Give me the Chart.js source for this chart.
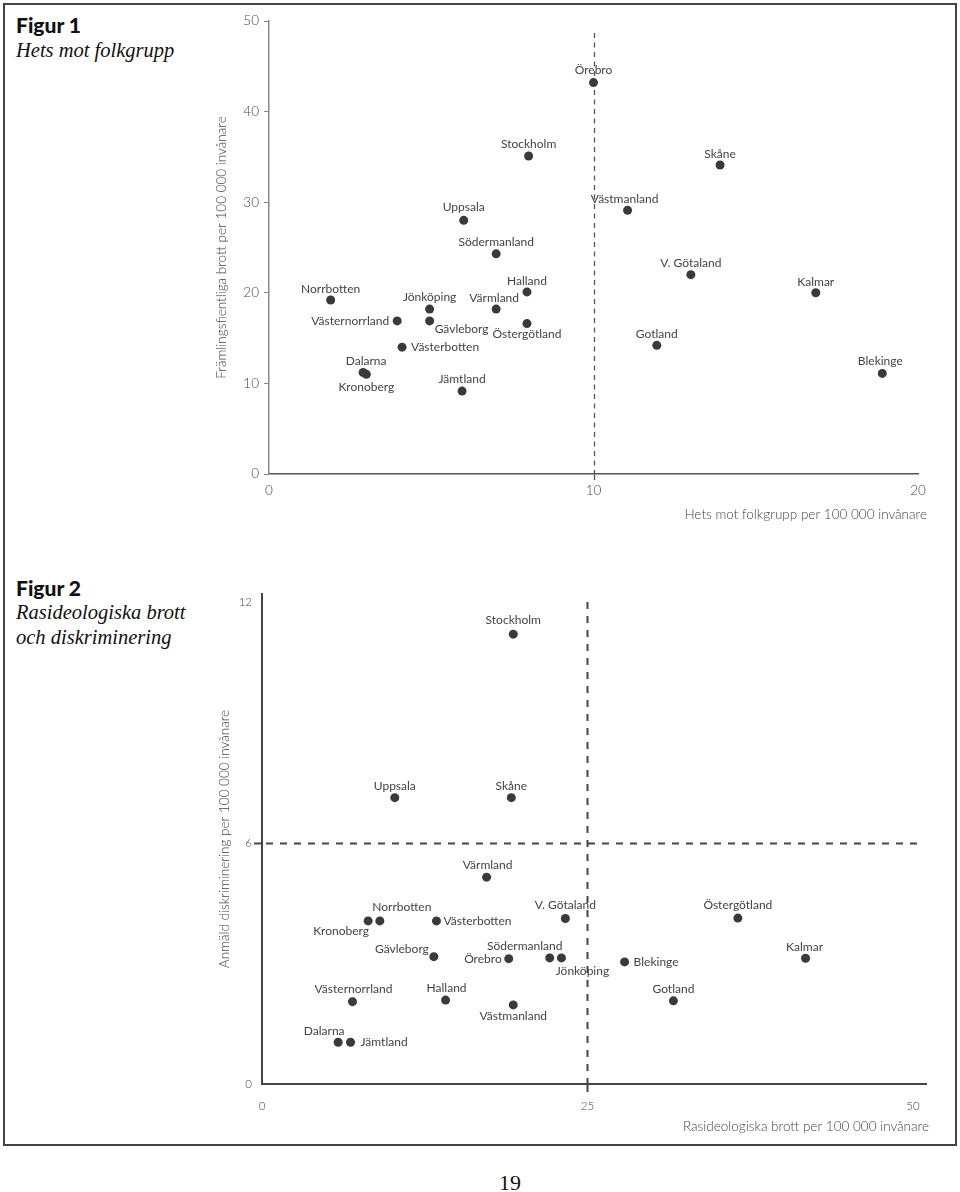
<html>
<head>
<meta charset="utf-8">
<title>Figur 1 och 2</title>
<script src="https://cdn.jsdelivr.net/npm/chart.js"></script>
<style>
  body { margin: 0; width: 960px; height: 1192px; background: #fff; position: relative; overflow: hidden; }
  #frame { position: absolute; left: 3px; top: 3px; width: 954px; height: 1143px; box-sizing: border-box; border: 2px solid #444; }
  canvas { position: absolute; left: 0; }
  .fignum { position: absolute; left: 16px; font: 900 21px Lato, sans-serif; line-height: 24px; color: #111; }
  .figtitle { position: absolute; left: 16px; font: italic 20.5px "Liberation Serif", serif; line-height: 24.5px; color: #111; }
  #page { position: absolute; left: 499px; top: 1172px; font: 22px "Liberation Serif", serif; line-height: 22px; color: #111; }
</style>
</head>
<body>
<div id="frame"></div>
<div class="fignum" style="top:13px">Figur 1</div>
<div class="figtitle" style="top:38px">Hets mot folkgrupp</div>
<div class="fignum" style="top:576px">Figur 2</div>
<div class="figtitle" style="top:600px">Rasideologiska brott<br>och diskriminering</div>
<canvas id="fig1" width="960" height="548" style="top:0"></canvas>
<canvas id="fig2" width="960" height="600" style="top:548px"></canvas>
<div id="page">19</div>
<script>
// Figur 1: hets mot folkgrupp (x) mot främlingsfientliga brott (y), per 100 000 invånare
var lan1 = ['Örebro', 'Stockholm', 'Skåne', 'Västmanland', 'Uppsala', 'Södermanland', 'V. Götaland',
    'Halland', 'Kalmar', 'Norrbotten', 'Värmland', 'Jönköping', 'Västernorrland', 'Gävleborg',
    'Östergötland', 'Gotland', 'Västerbotten', 'Dalarna', 'Blekinge', 'Kronoberg', 'Jämtland'];
var hets1 = [10.0, 8.0, 13.9, 11.05, 6.0, 7.0, 13.0, 7.95, 16.85, 1.9, 7.0, 4.95, 3.95, 4.95,
    7.95, 11.95, 4.1, 2.9, 18.9, 3.0, 5.95];
var framl1 = [43.2, 35.1, 34.1, 29.1, 28.0, 24.3, 22.0, 20.1, 20.0, 19.2, 18.2, 18.2, 16.9, 16.9,
    16.6, 14.2, 14.0, 11.2, 11.1, 11.0, 9.15];
var xTicks1 = [0, 10, 20];
var yTicks1 = [0, 10, 20, 30, 40, 50];
var refX1 = 10;

// Figur 2: rasideologiska brott (x) mot anmäld diskriminering (y)
var lan2 = ['Stockholm', 'Skåne', 'Uppsala', 'Värmland', 'V. Götaland', 'Östergötland', 'Norrbotten',
    'Kronoberg', 'Västerbotten', 'Kalmar', 'Gävleborg', 'Södermanland', 'Jönköping', 'Örebro',
    'Blekinge', 'Gotland', 'Halland', 'Västernorrland', 'Västmanland', 'Dalarna', 'Jämtland'];
var rasid2 = [19.3, 19.15, 10.2, 17.25, 23.3, 36.55, 9.05, 8.15, 13.4, 41.75, 13.2, 22.1, 23.0, 18.95,
    27.85, 31.6, 14.1, 6.95, 19.3, 5.85, 6.8];
var diskr2 = [11.2, 7.13, 7.13, 5.15, 4.12, 4.13, 4.06, 4.06, 4.06, 3.13, 3.17, 3.14, 3.14, 3.12,
    3.04, 2.07, 2.09, 2.05, 1.97, 1.04, 1.04];
var xTicks2 = [0, 25, 50];
var yTicks2 = [0, 6, 12];
var refX2 = 25;
var refY2 = 6;

// where each name sits next to its dot: [dx, dy, align]
var place1 = [[0,-12,'center'], [0,-12,'center'], [0,-11,'center'], [-3,-11,'center'], [0,-13,'center'],
    [0,-12,'center'], [0,-12,'center'], [0,-11,'center'], [0,-11,'center'], [0,-11,'center'],
    [-2,-11,'center'], [0,-12,'center'], [-8,0,'right'], [5,8,'left'], [0,11,'center'],
    [0,-11,'center'], [9,0,'left'], [3,-11,'center'], [-2,-12,'center'], [0,13,'center'], [0,-12,'center']];
var place2 = [[0,-14,'center'], [0,-12,'center'], [0,-12,'center'], [1,-12,'center'], [0,-13,'center'],
    [0,-13,'center'], [22,-14,'center'], [-27,10,'center'], [7,0,'left'], [-1,-11,'center'],
    [-5,-8,'right'], [-25,-12,'center'], [21,13,'center'], [-7,0,'right'], [9,0,'left'],
    [0,-12,'center'], [1,-12,'center'], [1,-13,'center'], [0,11,'center'], [-14,-11,'center'], [10,0,'left']];

var labelFont = '12px Lato, sans-serif';
var dotColor = '#3a3a3a';

function extras(names, place, opts) {
    return {
        id: 'extras',
        beforeDatasetsDraw: function (chart) {
            var ctx = chart.ctx, a = chart.chartArea;
            var xs = chart.scales.x, ys = chart.scales.y;
            ctx.save();
            ctx.strokeStyle = opts.dashColor;
            ctx.lineWidth = opts.dashWidth;
            ctx.setLineDash(opts.dash);
            if (opts.refX != null) {
                var px = Math.round(xs.getPixelForValue(opts.refX)) + 0.5;
                ctx.beginPath();
                ctx.moveTo(px, a.top + opts.vTop);
                ctx.lineTo(px, a.bottom);
                ctx.stroke();
                ctx.setLineDash([]);
                ctx.beginPath();
                ctx.moveTo(px, a.bottom);
                ctx.lineTo(px, a.bottom + opts.tickOut);
                ctx.stroke();
                ctx.setLineDash(opts.dash);
            }
            if (opts.refY != null) {
                var py = Math.round(ys.getPixelForValue(opts.refY)) + 0.5;
                ctx.setLineDash([]);
                ctx.beginPath();
                ctx.moveTo(a.left - opts.tickOut, py);
                ctx.lineTo(a.left, py);
                ctx.stroke();
                ctx.setLineDash(opts.dash);
                ctx.beginPath();
                ctx.moveTo(a.left + 4, py);
                ctx.lineTo(a.right - opts.hRight, py);
                ctx.stroke();
            }
            ctx.restore();
        },
        afterDatasetsDraw: function (chart) {
            var ctx = chart.ctx, a = chart.chartArea;
            var pts = chart.getDatasetMeta(0).data;
            ctx.save();
            ctx.fillStyle = '#444';
            ctx.font = labelFont;
            ctx.textBaseline = 'middle';
            for (var i = 0; i < names.length; i++) {
                ctx.textAlign = place[i][2];
                ctx.fillText(names[i], pts[i].x + place[i][0], pts[i].y + place[i][1]);
            }
            // axis titles
            ctx.font = opts.titleFont;
            ctx.fillStyle = '#444';
            ctx.textAlign = 'right';
            ctx.fillText(opts.xTitle, a.right + opts.xTitleDx, a.bottom + opts.xTitleDy);
            ctx.translate(a.left - opts.yTitleDx, (a.top + a.bottom) / 2 + opts.yTitleDy);
            ctx.rotate(-Math.PI / 2);
            ctx.textAlign = 'center';
            ctx.fillText(opts.yTitle, 0, 0);
            ctx.restore();
        }
    };
}

function fixBox(size, isX) {
    return function (s) {
        if (isX) { s.height = size; } else { s.width = size; }
        s.paddingLeft = 0; s.paddingRight = 0; s.paddingTop = 0; s.paddingBottom = 0;
    };
}

function points(xs, ys) {
    var out = [];
    for (var i = 0; i < xs.length; i++) out.push({x: xs[i], y: ys[i]});
    return out;
}

function tickSetter(list) {
    return function (s) { s.ticks = list.map(function (v) { return {value: v}; }); };
}

Chart.defaults.font.family = 'Lato, sans-serif';
Chart.defaults.color = '#444';

const chart1 = new Chart(document.getElementById('fig1'), {
    type: 'scatter',
    data: {
        datasets: [{
            data: points(hets1, framl1),
            backgroundColor: dotColor,
            borderWidth: 0,
            pointRadius: 4.5
        }]
    },
    options: {
        responsive: false,
        animation: false,
        layout: { padding: { top: 21, right: 42, left: 0, bottom: 0 } },
        plugins: { legend: { display: false }, tooltip: { enabled: false } },
        scales: {
            x: {
                type: 'linear', min: 0, max: 20,
                afterBuildTicks: tickSetter(xTicks1),
                afterFit: fixBox(74, true),
                grid: { display: false, drawTicks: false },
                border: { color: '#555', width: 1.5 },
                ticks: { font: { size: 13.5, weight: 300 }, padding: 9, color: '#444' }
            },
            y: {
                type: 'linear', min: 0, max: 50,
                afterBuildTicks: tickSetter(yTicks1),
                afterFit: fixBox(269, false),
                grid: { display: true, drawOnChartArea: false, drawTicks: true, tickLength: 5, color: '#888' },
                border: { color: '#888', width: 1.5 },
                ticks: { font: { size: 13.5, weight: 300 }, padding: 5, color: '#444' }
            }
        }
    },
    plugins: [extras(lan1, place1, {
        refX: refX1, refY: null, dash: [5, 4.5], dashColor: '#555', dashWidth: 1.3,
        vTop: 12, tickOut: 6, hRight: 0,
        titleFont: '300 13.5px Lato, sans-serif',
        xTitle: 'Hets mot folkgrupp per 100 000 invånare', xTitleDx: 9, xTitleDy: 41,
        yTitle: 'Främlingsfientliga brott per 100 000 invånare', yTitleDx: 47, yTitleDy: 0
    })]
});

const chart2 = new Chart(document.getElementById('fig2'), {
    type: 'scatter',
    data: {
        datasets: [{
            data: points(rasid2, diskr2),
            backgroundColor: dotColor,
            borderWidth: 0,
            pointRadius: 4.5
        }]
    },
    options: {
        responsive: false,
        animation: false,
        layout: { padding: { top: 46, right: 34, left: 0, bottom: 0 } },
        plugins: { legend: { display: false }, tooltip: { enabled: false } },
        scales: {
            x: {
                type: 'linear', min: 0, max: 51,
                afterBuildTicks: tickSetter(xTicks2),
                afterFit: fixBox(64, true),
                grid: { display: false, drawTicks: false },
                border: { color: '#444', width: 2 },
                ticks: { font: { size: 11.5, weight: 300 }, padding: 15, color: '#444' }
            },
            y: {
                type: 'linear', min: 0, max: 12.2,
                afterBuildTicks: tickSetter(yTicks2),
                afterFit: fixBox(262, false),
                grid: { display: false, drawTicks: false },
                border: { color: '#444', width: 2 },
                ticks: { font: { size: 11.5, weight: 300 }, padding: 10, color: '#444' }
            }
        }
    },
    plugins: [extras(lan2, place2, {
        refX: refX2, refY: refY2, dash: [7, 7], dashColor: '#444', dashWidth: 2,
        vTop: 8, tickOut: 8, hRight: 9,
        titleFont: '300 13.5px Lato, sans-serif',
        xTitle: 'Rasideologiska brott per 100 000 invånare', xTitleDx: 3, xTitleDy: 43,
        yTitle: 'Anmäld diskriminering per 100 000 invånare', yTitleDx: 37, yTitleDy: 0
    })]
});
</script>
</body>
</html>
